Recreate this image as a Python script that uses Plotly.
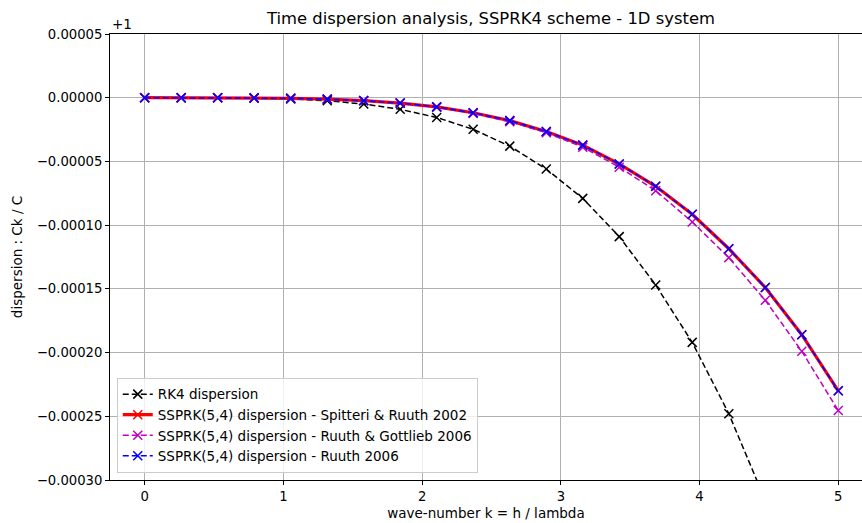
import plotly.graph_objects as go
import numpy as np

# wave-number samples
k = [0.0, 0.263, 0.526, 0.789, 1.053, 1.316, 1.579, 1.842, 2.105, 2.368,
     2.632, 2.895, 3.158, 3.421, 3.684, 3.947, 4.211, 4.474, 4.737, 5.0]

# dispersion Ck/C minus 1, in units of 1e-5
rk4 = [0.0, -0.0004, -0.006, -0.03, -0.10, -0.24, -0.49, -0.91, -1.55, -2.48,
       -3.8, -5.6, -7.9, -10.9, -14.7, -19.2, -24.8, -31.6, -39.8, -49.4]
spitteri = [0.0, -0.0002, -0.003, -0.014, -0.045, -0.11, -0.23, -0.42, -0.72, -1.18,
            -1.8, -2.65, -3.72, -5.2, -6.95, -9.15, -11.85, -14.9, -18.6, -23.0]
ruuth_gottlieb = [0.0, -0.0002, -0.003, -0.015, -0.047, -0.115, -0.24, -0.44, -0.75, -1.23,
                  -1.88, -2.75, -3.88, -5.45, -7.3, -9.75, -12.55, -15.9, -19.9, -24.55]
ruuth = [0.0, -0.0002, -0.003, -0.014, -0.045, -0.11, -0.23, -0.42, -0.72, -1.18,
         -1.8, -2.65, -3.72, -5.2, -6.95, -9.15, -11.85, -14.9, -18.6, -23.0]

names = ["RK4 dispersion",
         "SSPRK(5,4) dispersion - Spitteri & Ruuth 2002",
         "SSPRK(5,4) dispersion - Ruuth & Gottlieb 2006",
         "SSPRK(5,4) dispersion - Ruuth 2006"]
series = [rk4, spitteri, ruuth_gottlieb, ruuth]
colors = ["black", "red", "#bf00bf", "blue"]
widths = [1.5, 3.2, 1.5, 1.5]
dashes = ["6px,3px", "solid", "6px,3px", "6px,3px"]

SCALE = 1e-5
FONT = "DejaVu Sans, Arial, sans-serif"
BASE = 13.5

fig = go.Figure()
for nm, s, c, w, d in zip(names, series, colors, widths, dashes):
    fig.add_trace(go.Scatter(
        x=k, y=np.array(s) * SCALE, name=nm, mode="lines+markers",
        line=dict(color=c, width=w, dash=d),
        marker=dict(symbol="x-thin", size=9, color=c, line=dict(color=c, width=1.5)),
    ))

W, H = 862, 523
ml, mr, mt, mb = 110, 0, 34, 43
fig.update_layout(
    width=W, height=H,
    margin=dict(l=ml, r=mr, t=mt, b=mb),
    paper_bgcolor="white", plot_bgcolor="white",
    font=dict(family=FONT, size=BASE, color="black"),
    title=dict(text="Time dispersion analysis, SSPRK4 scheme - 1D system",
               x=(491 - ml) / (W - ml - mr), xref="paper", xanchor="center",
               y=1 - 18 / H, yref="container", yanchor="middle",
               font=dict(size=16.4, color="black")),
    showlegend=True,
    legend=dict(x=0.009, y=0.016, xanchor="left", yanchor="bottom",
                bgcolor="rgba(255,255,255,0.8)", bordercolor="#cccccc", borderwidth=1,
                font=dict(size=BASE), tracegroupgap=0),
)
fig.update_xaxes(
    range=[-0.25, -0.25 + (W - ml - mr) / 138.72],
    tickmode="linear", tick0=0, dtick=1,
    tickfont=dict(size=13.2),
    showgrid=True, gridcolor="#b0b0b0", gridwidth=1,
    showline=True, linecolor="black", linewidth=1, mirror=True,
    ticks="outside", ticklen=4, tickcolor="black", zeroline=False,
    title=dict(text="wave-number k = h / lambda", standoff=5, font=dict(size=BASE)),
)
fig.update_yaxes(
    range=[-0.0003, 0.00005],
    tickmode="linear", tick0=0, dtick=0.00005, tickformat=".5f",
    tickfont=dict(size=13.2),
    showgrid=True, gridcolor="#b0b0b0", gridwidth=1,
    showline=True, linecolor="black", linewidth=1,
    ticks="outside", ticklen=4, tickcolor="black", zeroline=False,
    title=dict(text="dispersion : Ck / C", standoff=11, font=dict(size=BASE)),
)
fig.add_annotation(text="+1", xref="paper", yref="paper", x=0, y=1,
                   xanchor="left", yanchor="bottom", showarrow=False,
                   font=dict(size=BASE, color="black"), yshift=0)

fig.write_html("out.html")
